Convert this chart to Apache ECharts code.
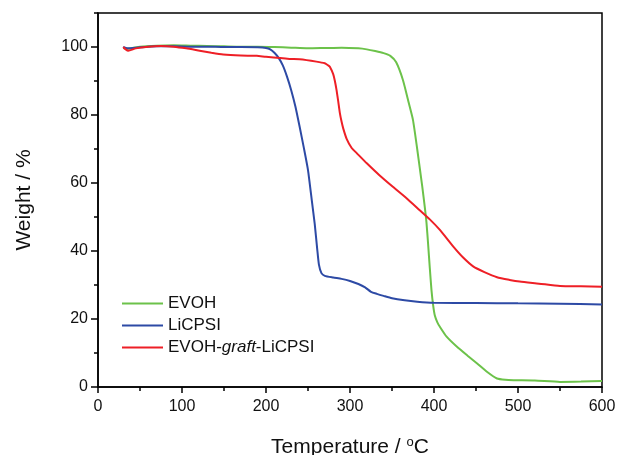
<!DOCTYPE html>
<html>
<head>
<meta charset="utf-8">
<script src="https://cdn.jsdelivr.net/npm/echarts@6/dist/echarts.min.js"></script>
<style>html,body{margin:0;padding:0;background:#fff}#c{width:620px;height:455px}</style>
</head>
<body>
<div id="c"></div>
<script>
const seriesNames = ['EVOH', 'LiCPSI', 'EVOH-graft-LiCPSI'];

const evohT = [30, 35, 50, 70, 90, 110, 130, 150, 170, 190, 210, 230, 250, 270, 290, 310, 320, 330, 340, 348, 355, 363, 370, 375, 380, 383, 386, 389, 391, 393, 395, 397, 399, 401, 404, 407, 415, 427, 440, 451, 463, 475, 485, 495, 520, 550, 575, 600];
const evohW = [99.7, 99.5, 100.1, 100.4, 100.5, 100.4, 100.3, 100.2, 100.1, 100.1, 100.0, 99.8, 99.6, 99.7, 99.8, 99.6, 99.3, 98.8, 98.2, 97.4, 95.5, 90.3, 83.5, 78.5, 70, 64.5, 59, 53, 48.5, 42, 35, 28.5, 24, 21, 19, 17.7, 14.8, 11.9, 9.2, 7.0, 4.5, 2.5, 2.1, 2.0, 1.9, 1.5, 1.6, 1.8];

const licpsiT = [30, 35, 50, 70, 90, 110, 130, 150, 170, 190, 200, 205, 210, 215, 220, 225, 230, 235, 240, 245, 250, 255, 258, 261, 263, 266, 270, 280, 290, 300, 310, 318, 325, 332, 340, 350, 365, 380, 400, 450, 500, 550, 600];
const licpsiW = [100, 99.6, 99.9, 100.2, 100.2, 100.1, 100.1, 100.0, 100.0, 99.9, 99.7, 99.3, 98.3, 96.8, 94.6, 91.3, 87.3, 82.5, 76.6, 70.4, 63.8, 53.9, 48, 40.5, 36, 33.5, 32.7, 32.2, 31.8, 31.2, 30.3, 29.3, 28, 27.4, 26.8, 26.1, 25.5, 25.1, 24.8, 24.7, 24.6, 24.5, 24.3];

const graftT = [30, 33, 36, 45, 60, 75, 90, 105, 121, 135, 149, 170, 189, 200, 228, 240, 260, 270, 274, 276, 280, 282, 284, 286, 288, 290, 292, 296, 302, 308, 320, 335, 351, 367, 383, 395, 407, 423, 435, 447, 460, 475, 490, 502, 525, 550, 575, 600];
const graftW = [100, 99.3, 98.9, 99.6, 100.1, 100.3, 100.1, 99.6, 98.9, 98.3, 97.8, 97.5, 97.4, 97.1, 96.5, 96.4, 95.7, 95.2, 94.6, 94.2, 92, 90, 87.3, 84, 80.5, 78, 76, 73, 70.3, 68.8, 65.8, 62.3, 58.9, 55.6, 52, 49.3, 46.2, 41.3, 38, 35.4, 33.8, 32.3, 31.5, 31.0, 30.4, 29.7, 29.6, 29.5];

const xTicks = [0, 100, 200, 300, 400, 500, 600];
const yMajorTicks = [0, 20, 40, 60, 80, 100];
const yMinorTicks = [10, 30, 50, 70, 90, 110];

const colors = ['#6cc24a', '#2d4aa5', '#ee1f26'];
const FONT = 'Liberation Sans, Arial, sans-serif';

function pairs(t, w) { return t.map((v, i) => [v, w[i]]); }

const chart = echarts.init(document.getElementById('c'), null, {renderer: 'canvas'});
chart.setOption({
  animation: false,
  backgroundColor: '#fff',
  grid: {left: 98, right: 18, top: 13, bottom: 68, show: true, borderColor: '#000', borderWidth: 1.5, backgroundColor: 'transparent', containLabel: false, outerBoundsMode: 'none'},
  legend: {
    orient: 'vertical', left: 121, top: 295, padding: 0,
    itemWidth: 41, itemHeight: 17, itemGap: 5,
    data: seriesNames,
    itemStyle: {opacity: 0},
    lineStyle: {width: 2},
    formatter: function (name) {
      return name.indexOf('graft') >= 0 ? 'EVOH-{i|graft}-LiCPSI' : name;
    },
    textStyle: {fontFamily: FONT, fontSize: 17, color: '#111', lineHeight: 17, padding: [0, 0, 0, 0],
      rich: {i: {fontStyle: 'italic', fontFamily: FONT, fontSize: 17, color: '#111'}}}
  },
  xAxis: {
    type: 'value', min: xTicks[0], max: xTicks[xTicks.length - 1], interval: 100,
    name: 'Temperature / {s|o}C', nameLocation: 'middle', nameGap: 49,
    nameTextStyle: {fontFamily: FONT, fontSize: 21, color: '#111',
      rich: {s: {fontFamily: FONT, fontSize: 13, color: '#111', verticalAlign: 'top', padding: [0, 0, 9, 0]}}},
    axisLine: {show: true, lineStyle: {color: '#000', width: 1.5}},
    axisTick: {show: true, length: 6, lineStyle: {color: '#000', width: 1.5}},
    minorTick: {show: true, splitNumber: 2, length: 4, lineStyle: {color: '#000', width: 1.5}},
    axisLabel: {fontFamily: FONT, fontSize: 16, color: '#111', margin: 12},
    splitLine: {show: false}
  },
  yAxis: [{
    type: 'value', min: 0, max: 110,
    name: 'Weight / %', nameLocation: 'middle', nameGap: 63,
    nameTextStyle: {fontFamily: FONT, fontSize: 21, color: '#111'},
    axisLine: {show: true, lineStyle: {color: '#000', width: 1.5}},
    axisTick: {show: true, length: 4, customValues: yMinorTicks, lineStyle: {color: '#000', width: 1.5}},
    axisLabel: {fontFamily: FONT, fontSize: 16, color: '#111', margin: 10, customValues: yMajorTicks},
    splitLine: {show: false}
  }, {
    type: 'value', min: 0, max: 110, position: 'left',
    axisLine: {show: false},
    axisTick: {show: true, length: 7, customValues: yMajorTicks, lineStyle: {color: '#000', width: 1.5}},
    axisLabel: {show: false},
    splitLine: {show: false}
  }],
  series: [
    {name: seriesNames[0], type: 'line', data: pairs(evohT, evohW), showSymbol: false, symbol: 'none', smooth: 0.2, lineStyle: {color: colors[0], width: 2}, itemStyle: {color: colors[0]}},
    {name: seriesNames[1], type: 'line', data: pairs(licpsiT, licpsiW), showSymbol: false, symbol: 'none', smooth: 0.2, lineStyle: {color: colors[1], width: 2}, itemStyle: {color: colors[1]}},
    {name: seriesNames[2], type: 'line', data: pairs(graftT, graftW), showSymbol: false, symbol: 'none', smooth: 0.2, lineStyle: {color: colors[2], width: 2}, itemStyle: {color: colors[2]}}
  ]
});
</script>
</body>
</html>
